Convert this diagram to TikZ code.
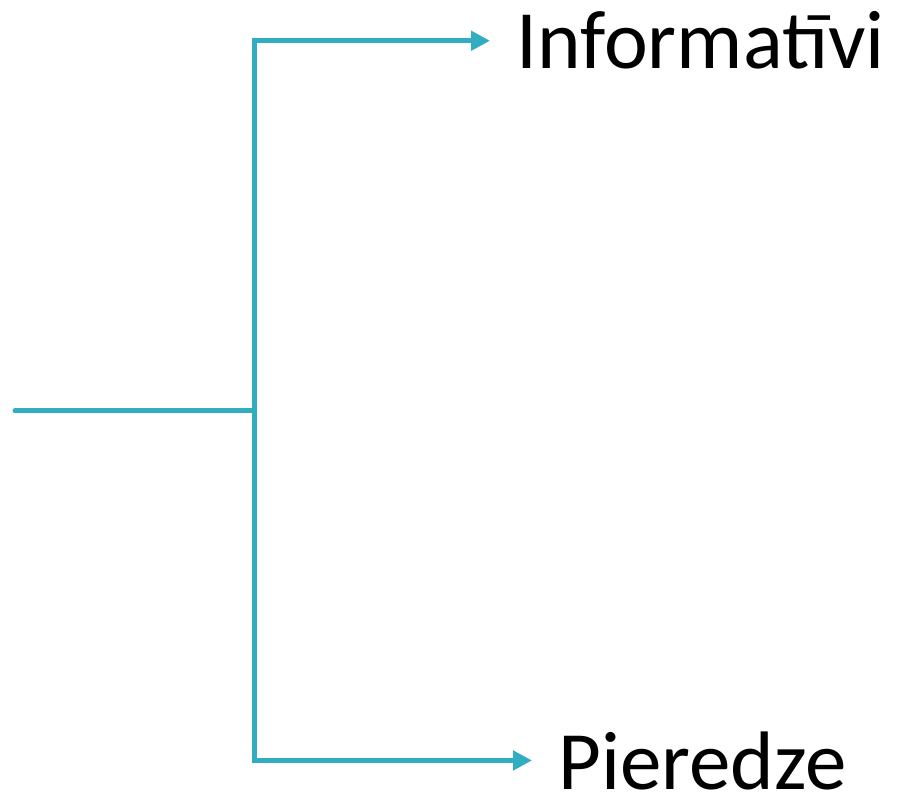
\documentclass[tikz,border=0pt]{standalone}
\usepackage{fontspec}
\setmainfont{Carlito}
\usetikzlibrary{arrows.meta, positioning}
\definecolor{teal}{RGB}{49,172,192}

\begin{document}
\begin{tikzpicture}[
        x=0.5pt, y=-0.5pt,
        >={Triangle[length=9.5pt, width=9.5pt]},
        stem/.style={draw=teal, line width=2.5pt, line cap=round},
        arr/.style={->, draw=teal, line width=2.5pt, shorten >=13pt},
        lbl/.style={font=\fontsize{41.5pt}{50pt}\selectfont, inner sep=0pt}
    ]
        \useasboundingbox (0,0) rectangle (900,796);

        \node[lbl, anchor=base west] (info) at (516,69) {Informatīvi};
        \node[lbl, anchor=base west] (pier) at (558,789) {Pieredze};

        \coordinate (start) at (15,411);
        \coordinate (hub) at (254,411);

        % stem and the two branches
        \draw[stem] (start) -- (hub);
        \draw[arr] (hub) |- (info.west);
        \draw[arr] (hub) |- (pier.west);
    \end{tikzpicture}
\end{document}
